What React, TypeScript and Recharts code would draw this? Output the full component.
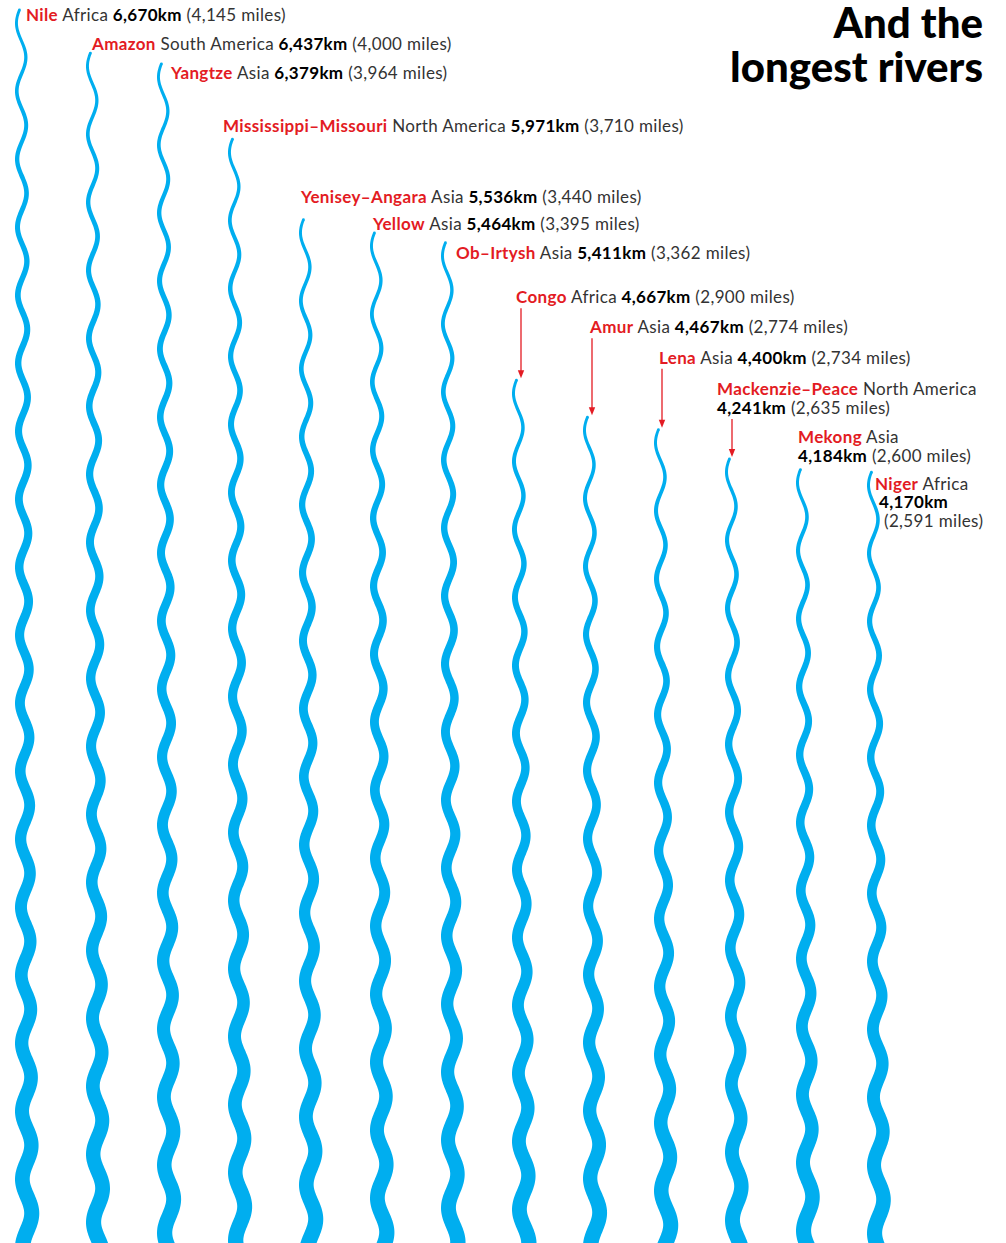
import React from 'react';
import { BarChart, Bar, XAxis, YAxis } from 'recharts';

const rivers = ['Nile', 'Amazon', 'Yangtze', 'Mississippi–Missouri', 'Yenisey–Angara', 'Yellow', 'Ob–Irtysh', 'Congo', 'Amur', 'Lena', 'Mackenzie–Peace', 'Mekong', 'Niger'];
const continents = ['Africa', 'South America', 'Asia', 'North America', 'Asia', 'Asia', 'Asia', 'Africa', 'Asia', 'Asia', 'North America', 'Asia', 'Africa'];
const lengthKm = [6670, 6437, 6379, 5971, 5536, 5464, 5411, 4667, 4467, 4400, 4241, 4184, 4170];
const lengthMiles = [4145, 4000, 3964, 3710, 3440, 3395, 3362, 2900, 2774, 2734, 2635, 2600, 2591];
const titleLines = ['And the', 'longest rivers'];

// label layout (offsets from river source), mode: 1 one line, 2 two lines, 3 three lines
const labelLayout = [
  { dx: 5, dy: 4, mode: 1 },
  { dx: 0, dy: -10, mode: 1 },
  { dx: 8, dy: 8, mode: 1 },
  { dx: -11, dy: -14, mode: 1 },
  { dx: -4, dy: -24, mode: 1 },
  { dx: -3, dy: -10, mode: 1 },
  { dx: 9, dy: 9, mode: 1 },
  { dx: -2, dy: -84, mode: 1, arrowDx: 3 },
  { dx: 1, dy: -91, mode: 1, arrowDx: 3 },
  { dx: -1, dy: -73, mode: 1, arrowDx: 2 },
  { dx: -14, dy: -71, mode: 2, arrowDx: 1 },
  { dx: -4, dy: -33.5, mode: 2 },
  { dx: 2, dy: 11, mode: 3 },
];

const BLUE = '#00AEEF';
const RED = '#E31B23';
const FONT = 'Lato, "Open Sans", sans-serif';
const FS = 17;
const LS = 0.35;
const W0 = 2.8;
const W1 = 15.5;
const AMP = 4.6;
const PERIOD = 68;
const PHASE0 = 0.35;

const data = rivers.map((name, i) => ({
  name,
  km: lengthKm[i],
  miles: lengthMiles[i],
  continent: continents[i],
}));

const fmt = (n: number) => n.toLocaleString('en-US');

function riverPath(cx: number, top: number, bottom: number) {
  const len = bottom - top;
  const left: string[] = [];
  const right: string[] = [];
  const center = (d: number) => {
    const t = Math.min(Math.max(d / len, 0), 1);
    const w = W0 + (W1 - W0) * t;
    return cx + (w - W0) / 2 - AMP * Math.sin((2 * Math.PI * d) / PERIOD + PHASE0);
  };
  for (let d = 0; d <= len; d += 1) {
    const t = d / len;
    const w = W0 + (W1 - W0) * t;
    const xc = center(d);
    const slope = center(d + 0.5) - center(d - 0.5);
    const nrm = Math.sqrt(1 + slope * slope);
    const nx = 1 / nrm;
    const ny = -slope / nrm;
    const y = top + d;
    left.push(`${(xc - (nx * w) / 2).toFixed(2)},${(y - (ny * w) / 2).toFixed(2)}`);
    right.push(`${(xc + (nx * w) / 2).toFixed(2)},${(y + (ny * w) / 2).toFixed(2)}`);
  }
  return `M${left.join('L')}L${right.reverse().join('L')}Z`;
}

function Label({ x, y, i }: { x: number; y: number; i: number }) {
  const mode = labelLayout[i].mode;
  const name = rivers[i];
  const cont = continents[i];
  const km = `${fmt(lengthKm[i])}km`;
  const mi = `(${fmt(lengthMiles[i])} miles)`;
  const common = { fontFamily: FONT, fontSize: FS, letterSpacing: LS, dominantBaseline: 'central' as const };
  if (mode === 1) {
    return (
      <text x={x} y={y} {...common}>
        <tspan fill={RED} fontWeight={700}>{name}</tspan>
        <tspan fill="#333"> {cont}</tspan>
        <tspan fill="#000" fontWeight={700}> {km}</tspan>
        <tspan fill="#333"> {mi}</tspan>
      </text>
    );
  }
  if (mode === 2) {
    return (
      <g>
        <text x={x} y={y} {...common}>
          <tspan fill={RED} fontWeight={700}>{name}</tspan>
          <tspan fill="#333"> {cont}</tspan>
        </text>
        <text x={x} y={y + 19} {...common}>
          <tspan fill="#000" fontWeight={700}>{km}</tspan>
          <tspan fill="#333"> {mi}</tspan>
        </text>
      </g>
    );
  }
  return (
    <g>
      <text x={x} y={y} {...common}>
        <tspan fill={RED} fontWeight={700}>{name}</tspan>
        <tspan fill="#333"> {cont}</tspan>
      </text>
      <text x={x + 4} y={y + 18} {...common} fill="#000" fontWeight={700}>{km}</text>
      <text x={x + 9} y={y + 37} {...common} fill="#333">{mi}</text>
    </g>
  );
}

function RiverShape(props: any) {
  const { x, y, width, height, payload } = props;
  const i = rivers.indexOf(payload?.name);
  if (i < 0 || x == null) return null;
  const cx = x + width / 2;
  const top = y;
  const bottom = y + height + 12;
  const lay = labelLayout[i];
  const lx = cx + lay.dx;
  const ly = top + lay.dy;
  let arrow = null;
  if (lay.arrowDx !== undefined) {
    const ax = cx + lay.arrowDx;
    const y1 = ly + (lay.mode === 2 ? 19 : 0) + 12;
    const y2 = top - 2;
    arrow = (
      <g>
        <line x1={ax} x2={ax} y1={y1} y2={y2 - 7} stroke={RED} strokeWidth={1.3} />
        <path d={`M${ax - 3.2},${y2 - 8}L${ax + 3.2},${y2 - 8}L${ax},${y2}Z`} fill={RED} />
      </g>
    );
  }
  return (
    <g>
      <path d={riverPath(cx, top, bottom)} fill={BLUE} />
      <circle cx={cx - AMP * Math.sin(PHASE0)} cy={top} r={W0 / 2} fill={BLUE} />
      {arrow}
      <Label x={lx} y={ly} i={i} />
    </g>
  );
}

export default function App() {
  return (
    <div style={{ position: 'absolute', left: 0, top: 0, width: 1006, height: 1243, overflow: 'hidden', background: '#fff' }}>
      <BarChart
        width={1006}
        height={1243}
        data={data}
        margin={{ top: 10, right: 97.5, bottom: 0, left: -14.5 }}
        barCategoryGap={0}
      >
        <XAxis dataKey="name" hide />
        <YAxis hide domain={[0, 6670]} />
        <Bar dataKey="km" shape={RiverShape} isAnimationActive={false} />
      </BarChart>
      <svg width={1006} height={100} style={{ position: 'absolute', left: 0, top: 0 }}>
        {titleLines.map((t, k) => (
          <text
            key={t}
            x={983}
            y={37.5 + k * 44}
            textAnchor="end"
            fontFamily={FONT}
            fontWeight={900}
            fontSize={42}
            fill="#000"
          >
            {t}
          </text>
        ))}
      </svg>
    </div>
  );
}
